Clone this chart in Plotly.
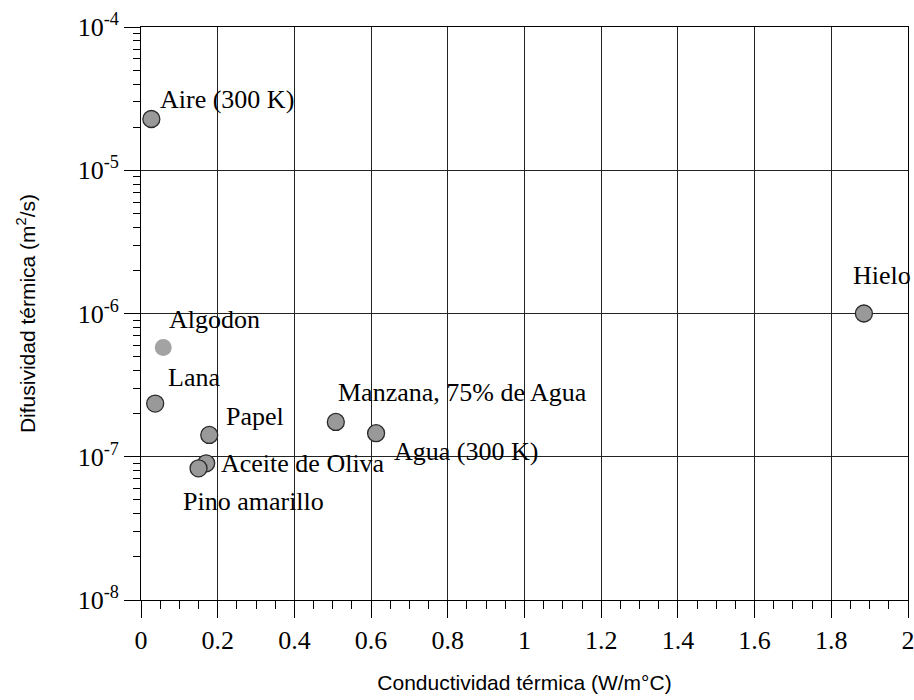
import math
import plotly.graph_objects as go

# ---- data ----
materials = ["Aire (300 K)", "Algodon", "Lana", "Papel", "Manzana, 75% de Agua",
             "Agua (300 K)", "Hielo", "Aceite de Oliva", "Pino amarillo"]
conductividad = [0.027, 0.058, 0.037, 0.178, 0.508, 0.613, 1.885, 0.170, 0.150]
difusividad = [2.28e-5, 5.8e-7, 2.35e-7, 1.42e-7, 1.75e-7, 1.46e-7, 1.0e-6, 9.0e-8, 8.3e-8]

x_ticks = [0, 0.2, 0.4, 0.6, 0.8, 1, 1.2, 1.4, 1.6, 1.8, 2]
y_tickvals = [1e-8, 1e-7, 1e-6, 1e-5, 1e-4]
y_ticktext = ["10<sup>-8</sup>", "10<sup>-7</sup>", "10<sup>-6</sup>",
              "10<sup>-5</sup>", "10<sup>-4</sup>"]

# ---- styling ----
marker_fill = ["#999999", "#a3a3a3", "#999999", "#999999", "#999999",
               "#999999", "#999999", "#999999", "#999999"]
marker_lw = [1.3, 0, 1.3, 1.3, 1.3, 1.3, 1.3, 1.3, 1.3]
# label offsets in pixels (dx right, dy up)
label_dx = [7, 4, 11, 15, 0, 16, -13, 13, -18]
label_dy = [19, 28, 26, 18, 29, -18, 38, 0, -33]

serif = "Liberation Serif, Times New Roman, serif"
sans = "Liberation Sans, Arial, sans-serif"

minor_y = [m * 10 ** e for e in range(-8, -4) for m in range(2, 10)]

fig = go.Figure()
fig.add_trace(go.Scatter(
    x=conductividad, y=difusividad, mode="markers",
    marker=dict(size=17, color=marker_fill,
                line=dict(color="#2a2a2a", width=marker_lw)),
    hoverinfo="skip", showlegend=False, cliponaxis=False))

for name, xv, yv, dx, dy in zip(materials, conductividad, difusividad, label_dx, label_dy):
    fig.add_annotation(x=xv, y=math.log10(yv), xref="x", yref="y", text=name,
                       showarrow=False, xanchor="left", yanchor="middle",
                       xshift=dx, yshift=dy,
                       font=dict(family=serif, size=26, color="black"))

fig.update_layout(
    width=914, height=700,
    margin=dict(l=141, r=6, t=27, b=100, autoexpand=False),
    paper_bgcolor="white", plot_bgcolor="white",
    xaxis=dict(
        range=[0, 2], tickvals=x_ticks, showgrid=True, gridcolor="#222222", gridwidth=1,
        showline=True, linecolor="black", linewidth=1, mirror=True,
        ticks="outside", ticklen=17, tickcolor="black", tickwidth=1,
        ticklabeloverflow="allow",
        minor=dict(dtick=0.05, tick0=0, ticks="outside", ticklen=8, tickcolor="black",
                   showgrid=False),
        tickfont=dict(family=serif, size=26, color="black"),
        zeroline=False,
        title=dict(text="Conductividad térmica (W/m°C)",
                   font=dict(family=sans, size=21, color="black"), standoff=21),
    ),
    yaxis=dict(
        type="log", range=[-8, -4], tickvals=y_tickvals, ticktext=y_ticktext,
        showgrid=True, gridcolor="#222222", gridwidth=1,
        showline=True, linecolor="black", linewidth=1, mirror=True,
        ticks="outside", ticklen=16, tickcolor="black", tickwidth=1,
        ticklabeloverflow="allow",
        minor=dict(tickmode="array", tickvals=minor_y, ticks="outside", ticklen=7,
                   tickcolor="black", showgrid=False),
        tickfont=dict(family=serif, size=26, color="black"),
        zeroline=False,
        title=dict(text="Difusividad térmica (m<sup>2</sup>/s)",
                   font=dict(family=sans, size=21, color="black"), standoff=36),
    ),
)

fig.write_html("out.html")
